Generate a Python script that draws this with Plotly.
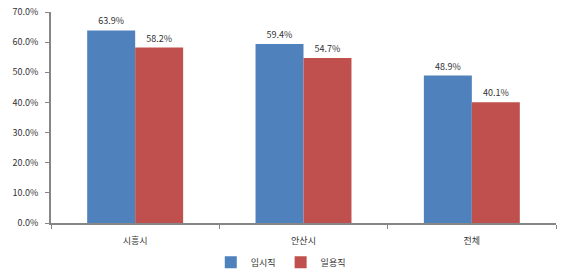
import plotly.graph_objects as go

categories = ["시흥시", "안산시", "전체"]
series_names = ["임시직", "일용직"]
temp_vals = [63.9, 59.4, 48.9]
daily_vals = [58.2, 54.7, 40.1]
y_ticks = [0, 10, 20, 30, 40, 50, 60, 70]

colors = ["#4F81BD", "#C0504D"]
font_fam = "Noto Sans CJK KR, DejaVu Sans, sans-serif"

fig = go.Figure()
for name, vals, c in zip(series_names, [temp_vals, daily_vals], colors):
    fig.add_trace(go.Bar(
        x=categories, y=vals, name=name, marker_color=c, marker_line_width=0,
        texttemplate="%{y:.1f}%", textposition="outside", cliponaxis=False,
        textfont=dict(size=9, color="#333333", family=font_fam),
    ))

fig.update_layout(
    width=567, height=278,
    margin=dict(l=51, r=11, t=12, b=55, autoexpand=False),
    paper_bgcolor="white", plot_bgcolor="white",
    barmode="group", bargap=0.43, bargroupgap=0,
    font=dict(family=font_fam, size=9, color="#333333"),
    showlegend=True,
    legend=dict(orientation="h", x=0.455, xanchor="center",
                yref="container", y=0.057, yanchor="middle",
                font=dict(size=9, family=font_fam), itemwidth=30, traceorder="normal",
                tracegroupgap=0),
    uniformtext=dict(minsize=8, mode="show"),
)
fig.update_xaxes(
    showline=True, linecolor="#868686", linewidth=2,
    ticks="outside", tickson="boundaries", ticklen=4, tickcolor="#868686",
    tickfont=dict(size=9, color="#333333"), showgrid=False,
    ticklabelstandoff=8,
)
fig.update_yaxes(
    range=[0, 70], tickvals=y_ticks, ticktext=[f"{v:.1f}%" for v in y_ticks],
    showline=True, linecolor="#868686", linewidth=2,
    ticks="outside", ticklen=4, tickcolor="#868686",
    tickfont=dict(size=9, color="#333333"), showgrid=False, zeroline=False,
    ticklabelstandoff=5,
)

fig.write_html("out.html")
